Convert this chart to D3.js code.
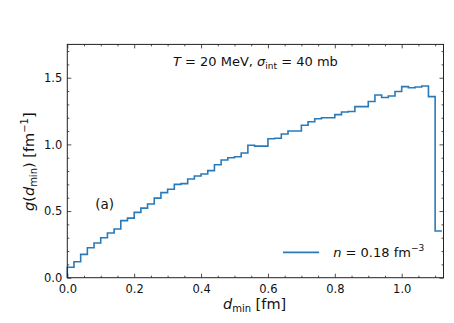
<!DOCTYPE html>
<html>
<head>
<meta charset="utf-8">
<script src="https://cdn.jsdelivr.net/npm/d3@7"></script>
<style>
  body { margin: 0; background: #fff; }
  text { font-family: "DejaVu Sans", sans-serif; fill: #111; }
</style>
</head>
<body>
<svg id="chart" width="454" height="323"></svg>
<script>
// histogram of d_min, bin width 0.02 fm
var binWidth = 0.02;
var gValues = [0.078, 0.12, 0.175, 0.225, 0.26, 0.30, 0.335, 0.365, 0.428, 0.447,
               0.49, 0.522, 0.553, 0.597, 0.638, 0.663, 0.70, 0.706, 0.74, 0.763,
               0.778, 0.803, 0.847, 0.883, 0.90, 0.907, 0.935, 0.993, 0.987, 0.987,
               1.042, 1.046, 1.078, 1.10, 1.10, 1.143, 1.17, 1.192, 1.20, 1.20,
               1.223, 1.243, 1.247, 1.283, 1.283, 1.322, 1.37, 1.352, 1.363, 1.397,
               1.433, 1.425, 1.43, 1.438, 1.358, 0.35];
var xTicks = [0, 0.2, 0.4, 0.6, 0.8, 1.0];
var yTicks = [0, 0.5, 1.0, 1.5];
var xDomain = [0, 1.125];
var yDomain = [0, 1.75];

var margin = {top: 44.4, right: 10.5, bottom: 45.3, left: 67.3},
    width = 454 - margin.left - margin.right,
    height = 323 - margin.top - margin.bottom,
    lineColor = "#2a7ab9";

var svg = d3.select("#chart");
var g = svg.append("g").attr("transform", "translate(" + margin.left + "," + margin.top + ")");

var x = d3.scaleLinear().domain(xDomain).range([0, width]);
var y = d3.scaleLinear().domain(yDomain).range([height, 0]);

// step outline: up from zero, across each bin, no drop at the end
var pts = [[0, 0]];
gValues.forEach(function(v, i) {
  pts.push([i * binWidth, v]);
  pts.push([(i + 1) * binWidth, v]);
});

g.append("path")
  .datum(pts)
  .attr("fill", "none")
  .attr("stroke", lineColor)
  .attr("stroke-width", 1.6)
  .attr("d", d3.line().x(function(d) { return x(d[0]); }).y(function(d) { return y(d[1]); }));

// ticks on all four sides, pointing in
var xMinor = d3.range(0, 1.125, 0.05).filter(function(t) { return Math.abs(t / 0.2 - Math.round(t / 0.2)) > 1e-6; });
var yMinor = d3.range(0, 1.75, 0.1).filter(function(t) { return Math.abs(t / 0.5 - Math.round(t / 0.5)) > 1e-6; });

function addAxis(axis, tr, values, size, labels) {
  var a = g.append("g").attr("transform", tr)
    .call(axis.tickValues(values).tickSizeInner(-size).tickSizeOuter(0)
      .tickFormat(labels ? d3.format(".1f") : ""));
  a.select(".domain").remove();
  a.selectAll("line").attr("stroke", "#222").attr("stroke-width", 0.8);
  a.selectAll("text").attr("font-size", "11.5px");
  return a;
}

var xb = addAxis(d3.axisBottom(x), "translate(0," + height + ")", xTicks, 4, true);
xb.selectAll("text").attr("dy", "1.05em");
addAxis(d3.axisBottom(x), "translate(0," + height + ")", xMinor, 2, false);
addAxis(d3.axisTop(x), "translate(0,0)", xTicks, 4, false);
addAxis(d3.axisTop(x), "translate(0,0)", xMinor, 2, false);
var yl = addAxis(d3.axisLeft(y), "translate(0,0)", yTicks, 4, true);
yl.selectAll("text").attr("x", -5);
addAxis(d3.axisLeft(y), "translate(0,0)", yMinor, 2, false);
addAxis(d3.axisRight(y), "translate(" + width + ",0)", yTicks, 4, false);
addAxis(d3.axisRight(y), "translate(" + width + ",0)", yMinor, 2, false);

g.append("rect")
  .attr("width", width).attr("height", height)
  .attr("fill", "none").attr("stroke", "#222").attr("stroke-width", 1);

// title inside the frame
var title = g.append("text").attr("x", width / 2).attr("y", 22)
  .attr("text-anchor", "middle").attr("font-size", "13px");
title.append("tspan").attr("font-style", "italic").text("T");
title.append("tspan").text(" = 20 MeV,  ");
title.append("tspan").attr("font-style", "italic").text("σ");
title.append("tspan").attr("font-size", "9px").attr("dy", 3).text("int");
title.append("tspan").attr("dy", -3).text(" = 40 mb");

g.append("text").attr("x", 28).attr("y", 165).attr("font-size", "13.5px").text("(a)");

// legend
g.append("line")
  .attr("x1", x(0.645)).attr("x2", x(0.753))
  .attr("y1", y(0.19)).attr("y2", y(0.19))
  .attr("stroke", lineColor).attr("stroke-width", 1.6);
var leg = g.append("text").attr("x", x(0.795)).attr("y", y(0.19) + 5).attr("font-size", "13px");
leg.append("tspan").attr("font-style", "italic").text("n");
leg.append("tspan").text(" = 0.18 fm");
leg.append("tspan").attr("font-size", "9px").attr("dy", -6).text("−3");

// axis labels
var xl = svg.append("text").attr("x", margin.left + x(0.56)).attr("y", 309)
  .attr("text-anchor", "middle").attr("font-size", "14.5px");
xl.append("tspan").attr("font-style", "italic").text("d");
xl.append("tspan").attr("font-size", "10px").attr("dy", 3).text("min");
xl.append("tspan").attr("dy", -3).text(" [fm]");

var ylab = svg.append("text")
  .attr("transform", "translate(34," + (margin.top + y(0.87)) + ") rotate(-90)")
  .attr("text-anchor", "middle").attr("font-size", "14.5px");
ylab.append("tspan").attr("font-style", "italic").text("g");
ylab.append("tspan").text("(");
ylab.append("tspan").attr("font-style", "italic").text("d");
ylab.append("tspan").attr("font-size", "10px").attr("dy", 3).text("min");
ylab.append("tspan").attr("dy", -3).text(")  [fm");
ylab.append("tspan").attr("font-size", "10px").attr("dy", -6).text("−1");
ylab.append("tspan").attr("dy", 6).text("]");
</script>
</body>
</html>
